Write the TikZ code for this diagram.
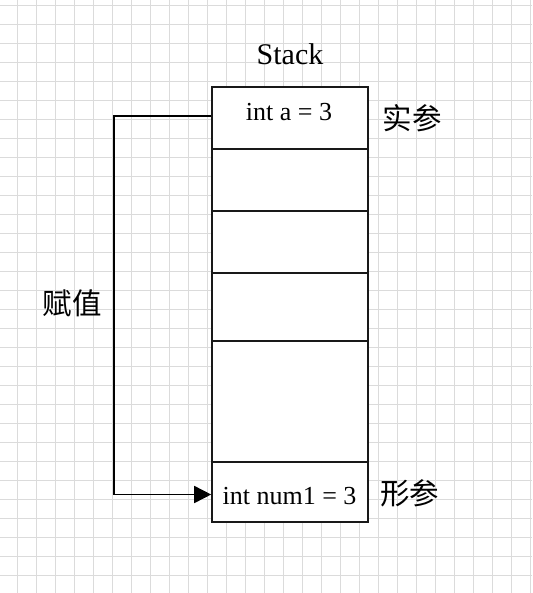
\documentclass[tikz,border=0pt]{standalone}
\usepackage{fontspec}
\setmainfont{Liberation Serif}
\newfontfamily\cjk{Noto Sans CJK SC}
\usetikzlibrary{arrows.meta}
\tikzset{
  gridline/.style={draw=black!14, line width=0.9pt},
  stackrow/.style={draw=black!90, line width=1.6pt, fill=white, minimum width=156pt, inner sep=0pt},
  latin/.style={font=\fontsize{26}{30}\selectfont, inner sep=0pt},
  title/.style={font=\fontsize{30}{34}\selectfont, inner sep=0pt},
  cjklbl/.style={font=\cjk\fontsize{29.5}{33}\selectfont, inner sep=0pt},
  conn/.style={draw=black, line width=1.6pt, -{Triangle[length=17pt,width=17pt]}}
}
\begin{document}
\begin{tikzpicture}[x=1pt,y=-1pt]
\useasboundingbox (0,0) rectangle (532,593);
\fill[white] (0,0) rectangle (532,593);
\foreach \i in {0,...,27} \draw[gridline] (17.3+19*\i,0) -- (17.3+19*\i,593);
\foreach \i in {0,...,30} \draw[gridline] (0,5.3+19*\i) -- (532,5.3+19*\i);
% stack rows
\node[stackrow, minimum height=62pt] (r1) at (290,118) {};
\node[stackrow, minimum height=62pt] (r2) at (290,180) {};
\node[stackrow, minimum height=62pt] (r3) at (290,242) {};
\node[stackrow, minimum height=68pt] (r4) at (290,307) {};
\node[stackrow, minimum height=121pt] (r5) at (290,401.5) {};
\node[stackrow, minimum height=60pt] (r6) at (290,492) {};
% texts
\node[title, anchor=base] (stack) at (290,65) {Stack};
\node[latin, anchor=base] (ta) at (289,121) {int a = 3};
\node[latin, anchor=base] (tn) at (289.5,504) {int num1 = 3};
\node[cjklbl] (sc) at (412,118) {实参};
\node[cjklbl] (xc) at (409.5,493) {形参};
\node[cjklbl] (fz) at (72,303) {赋值};
% connector
\coordinate (c1) at ([yshift=2pt]r1.west);
\coordinate (c2) at ([yshift=-2.5pt]r6.west);
\coordinate (cl) at (114,0);
\draw[conn] (c1) -- (c1 -| cl) -- (c2 -| cl) -- (c2);
\end{tikzpicture}
\end{document}
